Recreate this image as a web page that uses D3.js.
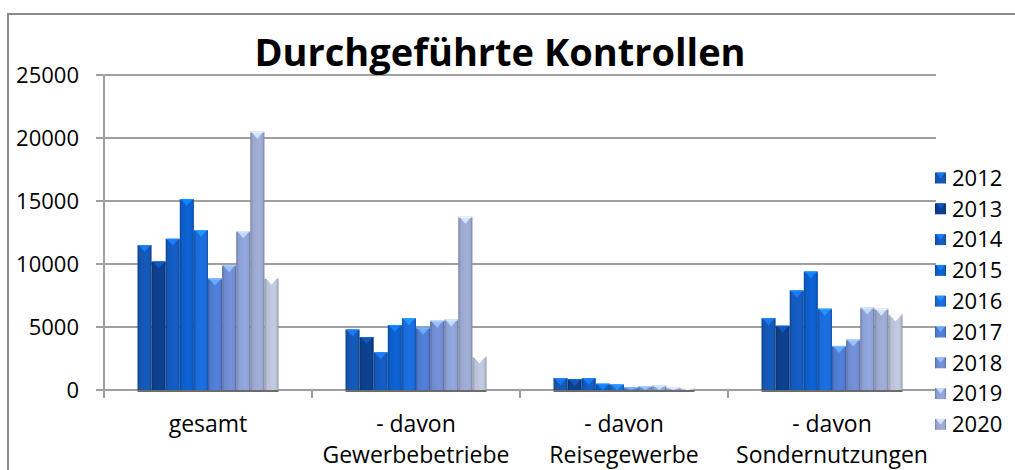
<!DOCTYPE html>
<html><head><meta charset="utf-8">
<script src="https://cdn.jsdelivr.net/npm/d3@7"></script>
<style>body{margin:0;background:#fff}svg{display:block}</style>
</head><body>
<script>
// ---- data ----
const categories = [["gesamt"], ["- davon", "Gewerbebetriebe"], ["- davon", "Reisegewerbe"], ["- davon", "Sondernutzungen"]];
const years = ["2012", "2013", "2014", "2015", "2016", "2017", "2018", "2019", "2020", "2021"];
const legendYears = ["2012", "2013", "2014", "2015", "2016", "2017", "2018", "2019", "2020"];
const v2012 = [11500, 4800, 950, 5700];
const v2013 = [10200, 4200, 850, 5100];
const v2014 = [12000, 3000, 950, 7900];
const v2015 = [15150, 5150, 500, 9400];
const v2016 = [12700, 5700, 450, 6450];
const v2017 = [8850, 4950, 200, 3500];
const v2018 = [9900, 5500, 300, 4000];
const v2019 = [12600, 5600, 350, 6550];
const v2020 = [20500, 13750, 200, 6450];
const v2021 = [8900, 2650, 150, 6000];
const yTicks = [0, 5000, 10000, 15000, 20000, 25000];
const chartTitle = "Durchgeführte Kontrollen";

const seriesValues = [v2012, v2013, v2014, v2015, v2016, v2017, v2018, v2019, v2020, v2021];
const colors = ["#1456b0", "#0c3f8a", "#1459bd", "#0c5ec9", "#1a6ad8", "#4d7bd0", "#6f8bd0", "#8d9fd4", "#9aa7cf", "#b9c0d6"];

const W = 1015, H = 470;
const svg = d3.select("body").append("svg").attr("width", W).attr("height", H);
const defs = svg.append("defs");
const FONT = "'Open Sans', Lato, sans-serif";

colors.forEach((c, i) => {
  const g = defs.append("linearGradient").attr("id", "g" + i).attr("x1", "0").attr("x2", "1").attr("y1", "0").attr("y2", "0");
  const base = d3.color(c);
  g.append("stop").attr("offset", "0%").attr("stop-color", base.darker(0.7));
  g.append("stop").attr("offset", "18%").attr("stop-color", base);
  g.append("stop").attr("offset", "65%").attr("stop-color", base.brighter(0.15));
  g.append("stop").attr("offset", "88%").attr("stop-color", base);
  g.append("stop").attr("offset", "100%").attr("stop-color", base.darker(0.8));
});

// chart frame
svg.append("path").attr("d", `M8,${H} L8,14 L${W},14`).attr("fill", "none").attr("stroke", "#8c8c8c").attr("stroke-width", 2);

const pLeft = 104, pRight = 936, pTop = 75, pBottom = 390;
const y = d3.scaleLinear().domain([0, 25000]).range([pBottom, pTop]);
const x0 = d3.scaleBand().domain(d3.range(categories.length)).range([pLeft, pRight]).padding(0);
const groupFrac = 0.678;
const x1 = d3.scaleBand().domain(d3.range(years.length))
  .range([x0.bandwidth() * (1 - groupFrac) / 2, x0.bandwidth() * (1 + groupFrac) / 2]).padding(0);

// gridlines
svg.append("g").selectAll("line").data(yTicks).join("line")
  .attr("x1", pLeft - 8).attr("x2", pRight).attr("y1", d => y(d)).attr("y2", d => y(d))
  .attr("stroke", "#a0a0a0").attr("stroke-width", 2);

// y axis line
svg.append("line").attr("x1", pLeft).attr("x2", pLeft).attr("y1", pTop).attr("y2", pBottom + 1)
  .attr("stroke", "#a0a0a0").attr("stroke-width", 2);

// x ticks
const xt = d3.range(categories.length + 1).map(i => i < categories.length ? x0(i) : pRight);
svg.append("g").selectAll("line").data(xt).join("line")
  .attr("x1", d => d).attr("x2", d => d).attr("y1", pBottom).attr("y2", pBottom + 8)
  .attr("stroke", "#a0a0a0").attr("stroke-width", 2);

// y labels
svg.append("g").selectAll("text").data(yTicks).join("text")
  .attr("x", 79).attr("y", d => y(d)).attr("dy", "0.35em").attr("text-anchor", "end")
  .attr("font-family", FONT).attr("font-size", 22).attr("fill", "#000").text(d => d);

// bars
const bars = svg.append("g");
seriesValues.forEach((vals, si) => {
  vals.forEach((v, ci) => {
    const bx = x0(ci) + x1(si), bw = x1.bandwidth(), by = y(v), bh = pBottom - by;
    const gb = bars.append("g");
    gb.append("rect").attr("x", bx).attr("y", by).attr("width", bw).attr("height", bh)
      .attr("fill", `url(#g${si})`);
    const capH = Math.min(7, bh);
    const base = d3.color(colors[si]);
    gb.append("polygon")
      .attr("points", `${bx + 1},${by} ${bx + bw - 1},${by} ${bx + bw / 2},${by + capH}`)
      .attr("fill", base.brighter(0.9));
    gb.append("line").attr("x1", bx).attr("x2", bx + bw).attr("y1", by + 0.5).attr("y2", by + 0.5)
      .attr("stroke", base.brighter(1.4)).attr("stroke-width", 1).attr("opacity", 0.7);
  });
});
// floor shadow under groups
svg.append("g").selectAll("line").data(d3.range(categories.length)).join("line")
  .attr("x1", d => x0(d) + x1(0)).attr("x2", d => x0(d) + x1(years.length - 1) + x1.bandwidth())
  .attr("y1", pBottom + 1).attr("y2", pBottom + 1).attr("stroke", "#6b6b6b").attr("stroke-width", 2);

// x labels
const xl = svg.append("g");
categories.forEach((lines, ci) => {
  const cx = x0(ci) + x0.bandwidth() / 2;
  const t = xl.append("text").attr("x", cx).attr("y", 432)
    .attr("text-anchor", "middle").attr("font-family", FONT).attr("font-size", 23).attr("fill", "#000");
  lines.forEach((l, li) => t.append("tspan").attr("x", cx).attr("dy", li === 0 ? 0 : 31).text(l));
});

// title
svg.append("text").attr("x", 500).attr("y", 66).attr("text-anchor", "middle")
  .attr("font-family", FONT).attr("font-weight", "bold").attr("font-size", 38).attr("fill", "#000").text(chartTitle);

// legend
const lg = svg.append("g");
legendYears.forEach((yr, i) => {
  const si = years.indexOf(yr);
  const cy = 178 + i * 30.8;
  const base = d3.color(colors[si]);
  lg.append("rect").attr("x", 935).attr("y", cy - 5.5).attr("width", 11).attr("height", 11).attr("fill", `url(#g${si})`);
  lg.append("polygon").attr("points", `936,${cy - 5.5} 945,${cy - 5.5} 940.5,${cy}`).attr("fill", base.brighter(0.9));
  lg.append("text").attr("x", 952).attr("y", cy).attr("dy", "0.35em")
    .attr("font-family", FONT).attr("font-size", 22).attr("fill", "#000").text(yr);
});
</script>
</body></html>
